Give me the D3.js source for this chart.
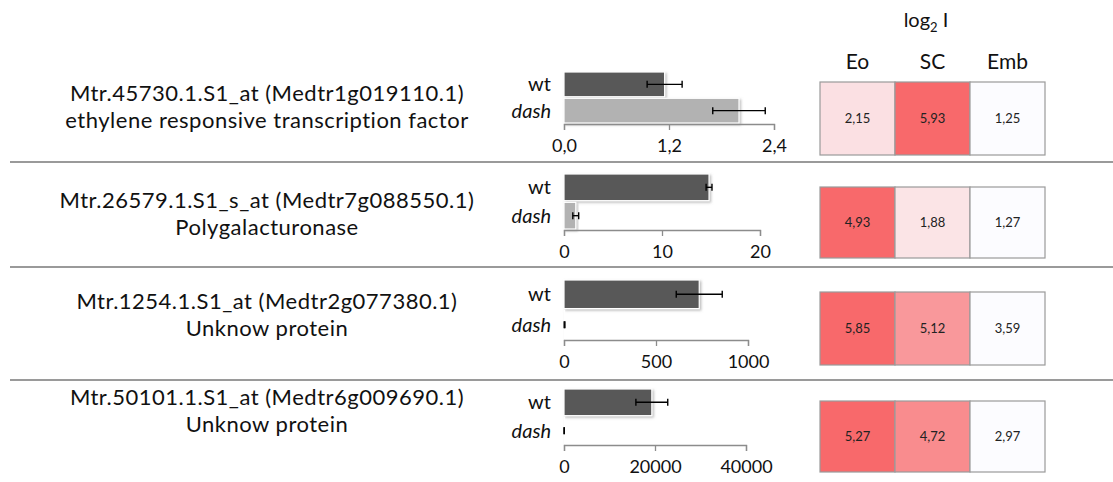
<!DOCTYPE html>
<html>
<head>
<meta charset="utf-8">
<script src="https://cdn.jsdelivr.net/npm/d3@7"></script>
<style>
  html, body { margin: 0; padding: 0; background: #fff; }
  svg { display: block; font-family: Lato, "Open Sans", sans-serif; }
</style>
</head>
<body>
<svg id="chart" width="1113" height="482"></svg>
<script>
const probes = [
  "Mtr.45730.1.S1_at (Medtr1g019110.1)",
  "Mtr.26579.1.S1_s_at (Medtr7g088550.1)",
  "Mtr.1254.1.S1_at (Medtr2g077380.1)",
  "Mtr.50101.1.S1_at (Medtr6g009690.1)"
];
const descriptions = [
  "ethylene responsive transcription factor",
  "Polygalacturonase",
  "Unknow protein",
  "Unknow protein"
];
const genotypes = ["wt", "dash"];
const wtValues = [1.15, 14.8, 735, 19300];
const wtErrors = [0.2, 0.3, 125, 3500];
const dashValues = [2.0, 1.2, 3, 40];
const dashErrors = [0.3, 0.3, 2, 30];
const axisMax = [2.4, 20, 1000, 40000];
const tickValues = [[0, 1.2, 2.4], [0, 10, 20], [0, 500, 1000], [0, 20000, 40000]];
const tickFormats = [",.1f", "d", "d", "d"];
const tissues = ["Eo", "SC", "Emb"];
const log2I = [
  [2.15, 5.93, 1.25],
  [4.93, 1.88, 1.27],
  [5.85, 5.12, 3.59],
  [5.27, 4.72, 2.97]
];

// per-row placement
const rows = [
  { barTop: 72, axisY: 124, axisW: 210, cellTop: 82, cellH: 73, line1: 101 },
  { barTop: 174, axisY: 230, axisW: 196, cellTop: 187, cellH: 71, line1: 208 },
  { barTop: 280, axisY: 340, axisW: 184, cellTop: 292, cellH: 73, line1: 309 },
  { barTop: 389, axisY: 445, axisW: 182, cellTop: 401, cellH: 71, line1: 405 }
];
const lineGap = 26.5;
const separators = [162, 267, 380];

const svg = d3.select("#chart");
const locale = d3.formatLocale({ decimal: ",", thousands: "", grouping: [3], currency: ["", ""] });

const defs = svg.append("defs");
const shadow = defs.append("filter").attr("id", "barShadow")
  .attr("x", "-10%").attr("y", "-20%").attr("width", "130%").attr("height", "150%");
shadow.append("feDropShadow")
  .attr("dx", 1.5).attr("dy", 1.5).attr("stdDeviation", 1)
  .attr("flood-color", "#888").attr("flood-opacity", 0.55);

// separators
svg.append("g").selectAll("line")
  .data(separators)
  .join("line")
  .attr("x1", 10).attr("x2", 1113)
  .attr("y1", (d) => d).attr("y2", (d) => d)
  .attr("stroke", "#9a9a9a").attr("stroke-width", 2);

// gene labels
const labels = svg.append("g").attr("fill", "#111").attr("font-size", 22)
  .attr("letter-spacing", 0.5).attr("text-anchor", "middle");
rows.forEach((r, i) => {
  labels.append("text").attr("x", 267).attr("y", r.line1).text(probes[i]);
  labels.append("text").attr("x", 267).attr("y", r.line1 + lineGap).text(descriptions[i]);
});

// bar charts
const barX0 = 564;
rows.forEach((r, i) => {
  const g = svg.append("g");
  const x = d3.scaleLinear().domain([0, axisMax[i]]).range([barX0, barX0 + r.axisW]);
  const y = d3.scaleBand().domain(genotypes).range([r.barTop, r.axisY - 1]).paddingInner(0.06);
  const vals = [
    { g: "wt", v: wtValues[i], e: wtErrors[i], c: "#595959" },
    { g: "dash", v: dashValues[i], e: dashErrors[i], c: "#b2b2b2" }
  ];

  g.selectAll("rect")
    .data(vals)
    .join("rect")
    .attr("x", x(0))
    .attr("y", (d) => y(d.g))
    .attr("width", (d) => Math.max(0.5, x(d.v) - x(0)))
    .attr("height", y.bandwidth())
    .attr("fill", (d) => d.c)
    .attr("stroke", "#fff").attr("stroke-width", 1.2)
    .attr("filter", "url(#barShadow)");

  const err = g.selectAll(".err").data(vals).join("g").attr("class", "err")
    .attr("stroke", "#000").attr("stroke-width", 1.4);
  err.append("line")
    .attr("x1", (d) => x(Math.max(0, d.v - d.e))).attr("x2", (d) => x(d.v + d.e))
    .attr("y1", (d) => y(d.g) + y.bandwidth() / 2).attr("y2", (d) => y(d.g) + y.bandwidth() / 2);
  [(d) => x(Math.max(0, d.v - d.e)), (d) => x(d.v + d.e)].forEach((fx) => {
    err.append("line")
      .attr("x1", fx).attr("x2", fx)
      .attr("y1", (d) => y(d.g) + y.bandwidth() / 2 - 3.5)
      .attr("y2", (d) => y(d.g) + y.bandwidth() / 2 + 3.5);
  });

  g.selectAll(".glabel")
    .data(genotypes)
    .join("text")
    .attr("class", "glabel")
    .attr("x", 551)
    .attr("y", (d) => y(d) + y.bandwidth() / 2 + 7)
    .attr("text-anchor", "end")
    .attr("font-size", 20)
    .attr("font-style", (d) => (d === "dash" ? "italic" : "normal"))
    .attr("fill", "#111")
    .text((d) => d);

  const axis = d3.axisBottom(x)
    .tickValues(tickValues[i])
    .tickSize(6)
    .tickPadding(9)
    .tickFormat(locale.format(tickFormats[i]));
  const ax = g.append("g").attr("transform", `translate(0,${r.axisY})`).call(axis);
  ax.select(".domain").attr("stroke", "#8c8c8c").attr("stroke-width", 1.3);
  ax.selectAll(".tick line").attr("stroke", "#8c8c8c").attr("stroke-width", 1.3);
  ax.selectAll(".tick text").attr("font-family", "Lato, sans-serif").attr("font-size", 18).attr("fill", "#111");
});

// heatmap
const cellX = d3.scaleBand().domain(tissues).range([820, 1045]);
const hdr = svg.append("g").attr("fill", "#111").attr("text-anchor", "middle");
const logTitle = hdr.append("text").attr("x", 926).attr("y", 27).attr("font-size", 20);
logTitle.append("tspan").text("log");
logTitle.append("tspan").attr("font-size", 13).attr("dy", 5).text("2");
logTitle.append("tspan").attr("dy", -5).text(" I");
hdr.selectAll(".tissue")
  .data(tissues)
  .join("text")
  .attr("class", "tissue")
  .attr("x", (d) => cellX(d) + cellX.bandwidth() / 2)
  .attr("y", 69)
  .attr("font-size", 21)
  .text((d) => d);

rows.forEach((r, i) => {
  const vals = log2I[i];
  const color = d3.scaleLinear().domain([d3.min(vals), d3.max(vals)]).range(["#fcfcff", "#f8696b"]);
  const cells = svg.append("g").selectAll("g")
    .data(vals.map((v, j) => ({ t: tissues[j], v })))
    .join("g");
  cells.append("rect")
    .attr("x", (d) => cellX(d.t))
    .attr("y", r.cellTop)
    .attr("width", cellX.bandwidth())
    .attr("height", r.cellH)
    .attr("fill", (d) => color(d.v))
    .attr("stroke", "#9a9a9a").attr("stroke-width", 1.2);
  cells.append("text")
    .attr("x", (d) => cellX(d.t) + cellX.bandwidth() / 2)
    .attr("y", r.cellTop + r.cellH / 2 + 4.5)
    .attr("text-anchor", "middle")
    .attr("font-size", 13)
    .attr("fill", "#222")
    .text((d) => locale.format(".2f")(d.v));
});
</script>
</body>
</html>
